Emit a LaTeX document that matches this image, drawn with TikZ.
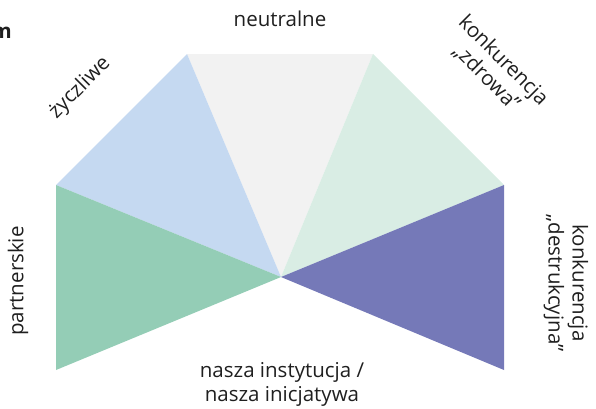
\documentclass[tikz,border=0pt]{standalone}
\usepackage{fontspec}
\setmainfont{Open Sans}
\begin{document}
\begin{tikzpicture}[x=1pt,y=-1pt,
  sector/.style={draw=none},
  lbl/.style={font=\fontsize{20.5}{24}\selectfont, text=black!88, align=center, inner sep=0pt}]
\useasboundingbox (0,0) rectangle (596,408);
\definecolor{cneutral}{HTML}{F2F2F2}
\definecolor{cfriendly}{HTML}{C5D9F1}
\definecolor{chealthy}{HTML}{D9EDE4}
\definecolor{cpartner}{HTML}{94CDB6}
\definecolor{cdestr}{HTML}{7579B8}
% corner points of the fan
\coordinate (c)  at (281,277);
\coordinate (tl) at (187,54);
\coordinate (tr) at (373,54);
\coordinate (ml) at (56,185);
\coordinate (mr) at (504,185);
\coordinate (bl) at (56,370);
\coordinate (br) at (504,370);
% sectors
\fill[sector, cneutral]  (tl) -- (tr) -- (c) -- cycle;
\fill[sector, cfriendly] (tl) -- (ml) -- (c) -- cycle;
\fill[sector, chealthy]  (tr) -- (mr) -- (c) -- cycle;
\fill[sector, cpartner]  (ml) -- (bl) -- (c) -- cycle;
\fill[sector, cdestr]    (mr) -- (br) -- (c) -- cycle;
% labels
\node[lbl] (neutral) at (280,19) {neutralne};
\node[lbl, rotate=45] (friendly) at (80,88) {życzliwe};
\node[lbl, rotate=-45] (healthy) at (495,69) {konkurencja\\„zdrowa”};
\node[lbl, rotate=90] (partner) at (18,281) {partnerskie};
\node[lbl, rotate=-90] (destr) at (566,283) {konkurencja\\„destrukcyjna”};
\node[lbl] (own) at (282,384) {nasza instytucja /\\nasza inicjatywa};
\node[lbl, font=\fontsize{20.5}{24}\selectfont\bfseries, anchor=east] (cut) at (12,33) {m};
\end{tikzpicture}
\end{document}
